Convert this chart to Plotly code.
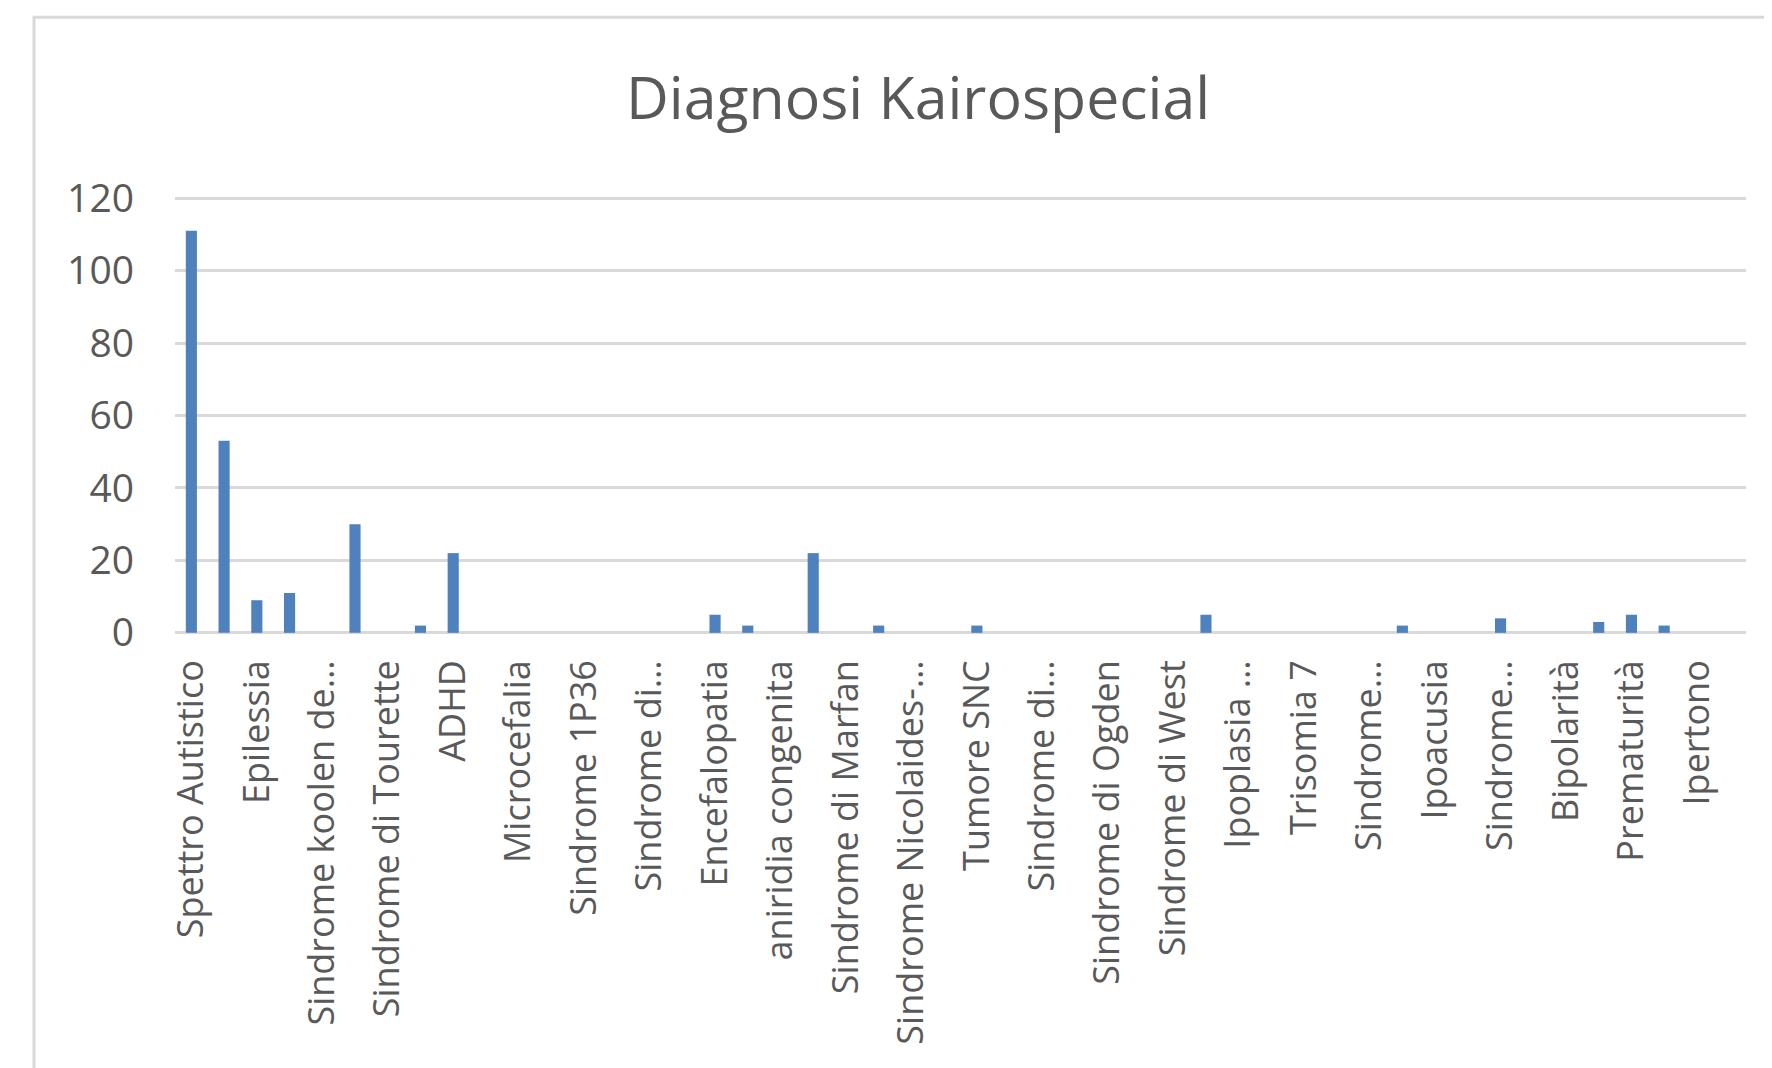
import plotly.graph_objects as go

# Visible (even-position) category labels as shown on the axis
etichette_visibili = [
    "Spettro Autistico", "Epilessia", "Sindrome koolen de…", "Sindrome di Tourette",
    "ADHD", "Microcefalia", "Sindrome 1P36", "Sindrome di…", "Encefalopatia",
    "aniridia congenita", "Sindrome di Marfan", "Sindrome Nicolaides-…", "Tumore SNC",
    "Sindrome di…", "Sindrome di Ogden", "Sindrome di West", "Ipoplasia …",
    "Trisomia 7", "Sindrome…", "Ipoacusia", "Sindrome…", "Bipolarità",
    "Prematurità", "Ipertono",
]

# Full category list: labels at odd positions are hidden by the axis (not legible)
categorie = []
for i, lab in enumerate(etichette_visibili):
    categorie.append(f"{i*2}:{lab}")
    categorie.append(f"{i*2+1}:(etichetta non visibile)")

valori = [
    111, 53, 9, 11, 0, 30, 0, 2, 22, 0,
    0, 0, 0, 0, 0, 0, 5, 2, 0, 22,
    0, 2, 0, 0, 2, 0, 0, 0, 0, 0,
    0, 5, 0, 0, 0, 0, 0, 2, 0, 0,
    4, 0, 0, 3, 5, 2, 0, 0,
]

tick_y = [0, 20, 40, 60, 80, 100, 120]

OFF = 8  # page body margin
W, H = 1772 - OFF, 1068 - OFF
L, R, T, B = 175 - OFF, 1746 - OFF, 198 - OFF, 633 - OFF
YMIN, YMAX = -0.6, 120.6
# adjust pixel box so that 0 and 120 stay at the same pixel rows
ppu = (B - T) / 120.0
T2 = T - 0.6 * ppu
B2 = B + 0.6 * ppu

fig = go.Figure(go.Bar(x=categorie, y=valori, marker=dict(color="#4F81BD", line=dict(width=0))))

def px_x(p):
    return (p - OFF - L) / (R - L)

def px_y(p):
    return (B2 - (p - OFF)) / (B2 - T2)

fig.update_layout(
    width=W, height=H,
    margin=dict(l=L, r=W - R, t=T2, b=H - B2, pad=0, autoexpand=False),
    paper_bgcolor="white", plot_bgcolor="white",
    bargap=0.66,
    showlegend=False,
    font=dict(family="Open Sans", color="#595959"),
    xaxis=dict(
        type="category",
        tickmode="array",
        tickvals=categorie[::2],
        ticktext=etichette_visibili,
        tickangle=-90,
        tickfont=dict(size=36, color="#595959"),
        showgrid=False, showline=False, zeroline=False,
        ticks="", ticklabelstandoff=17, automargin=False,
        range=[-0.5, len(categorie) - 0.5],
    ),
    yaxis=dict(
        range=[YMIN, YMAX],
        tickmode="array", tickvals=tick_y,
        tickfont=dict(size=39, color="#595959"),
        showgrid=True, gridcolor="#D9D9D9", gridwidth=3,
        zeroline=False, showline=False, ticks="",
        ticklabelstandoff=40, automargin=False,
    ),
    shapes=[dict(
        type="rect", xref="paper", yref="paper",
        x0=px_x(34), x1=px_x(1900), y0=px_y(17), y1=px_y(1200),
        line=dict(color="#D9D9D9", width=3), fillcolor="rgba(0,0,0,0)", layer="below",
    )],
    annotations=[dict(
        text="Diagnosi Kairospecial", xref="paper", yref="paper",
        x=px_x(918), y=px_y(96), xanchor="center", yanchor="middle",
        showarrow=False, font=dict(family="Open Sans", size=59, color="#595959"),
    )],
)

fig.write_html("out.html")
